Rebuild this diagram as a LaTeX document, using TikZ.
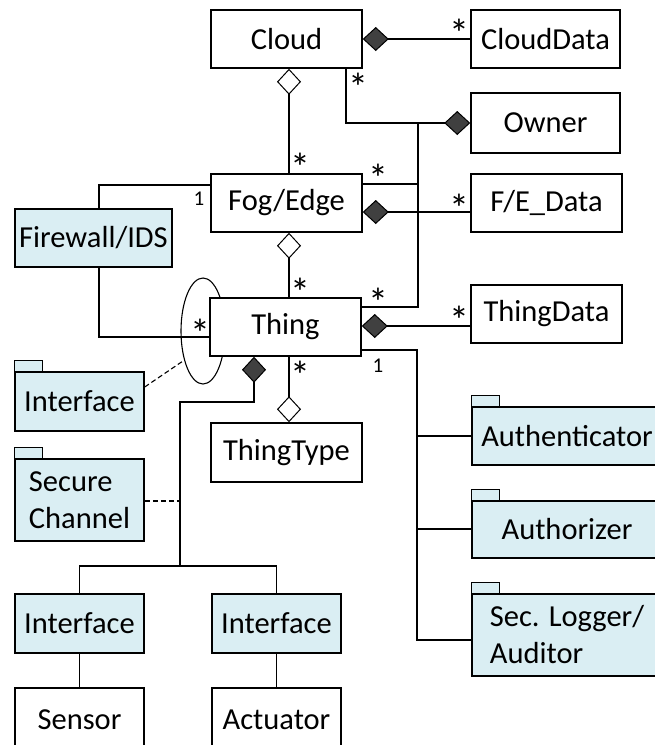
\documentclass[tikz,border=0pt]{standalone}
\usepackage{fontspec}
\setmainfont{Carlito}
\usetikzlibrary{arrows.meta}
\definecolor{pkgblue}{HTML}{DAEEF3}
\definecolor{dfill}{HTML}{404040}
\newcommand{\mstar}{\raisebox{-14pt}[11pt][0pt]{*}}
\begin{document}
\begin{tikzpicture}[x=1pt,y=-1pt,
  box/.style={draw,line width=1.5pt,fill=white,inner sep=0pt,font=\fontsize{30.5}{37}\selectfont,align=center},
  pkg/.style={box,fill=pkgblue},
  ln/.style={line width=1.1pt},
  comp/.style={ln,-{Diamond[length=26pt,width=24pt,fill=dfill,line width=1pt]}},
  agg/.style={ln,-{Diamond[length=26pt,width=24pt,fill=white,line width=1pt]}},
  mult/.style={font=\fontsize{21}{24}\selectfont,inner sep=0pt},
  star/.style={font=\fontsize{40}{40}\selectfont,inner sep=0pt},
  tabbox/.style={draw,line width=1.2pt,fill=pkgblue}
]
\useasboundingbox (0,0) rectangle (655,745);
\clip (0,0) rectangle (655,745);
% ellipse (behind Thing)
\draw[ln] (203,331) ellipse [x radius=22pt, y radius=53pt];
% nodes
\node[box,minimum width=151pt,minimum height=58pt] (cloud) at (286.5,39) {Cloud};
\node[box,minimum width=149pt,minimum height=58pt] (cdata) at (545.5,39) {CloudData};
\node[box,minimum width=149pt,minimum height=60pt] (owner) at (545.5,123) {Owner};
\node[box,minimum width=151pt,minimum height=58pt] (fog) at (286.5,203) {Fog/Edge};
\node[box,minimum width=151pt,minimum height=58pt] (fe) at (546.5,203) {F/E\_Data};
\node[pkg,minimum width=157pt,minimum height=58pt] (fw) at (93.5,238) {Firewall/IDS};
\node[box,minimum width=151pt,minimum height=58pt] (thing) at (285.5,327) {Thing};
\node[box,minimum width=151pt,minimum height=58pt] (tdata) at (546.5,314) {ThingData};
\node[box,minimum width=151pt,minimum height=59pt] (ttype) at (286.5,452.5) {ThingType};
\node[pkg,minimum width=129pt,minimum height=59pt] (if1) at (79.5,401.5) {Interface};
\node[pkg,minimum width=129pt,minimum height=82pt,align=left] (sc) at (79.5,500) {Secure\\Channel};
\node[pkg,minimum width=129pt,minimum height=59pt] (if2) at (79.5,623.5) {Interface};
\node[pkg,minimum width=129pt,minimum height=59pt] (if3) at (276.5,623.5) {Interface};
\node[box,minimum width=129pt,minimum height=64pt] (sensor) at (79.5,720) {Sensor};
\node[box,minimum width=129pt,minimum height=64pt] (actuator) at (276.5,720) {Actuator};
\node[pkg,minimum width=190pt,minimum height=58pt] (authc) at (567,436) {Authenticator};
\node[pkg,minimum width=190pt,minimum height=57pt] (authz) at (567,529.5) {Authorizer};
\node[pkg,minimum width=190pt,minimum height=82pt,align=left] (logger) at (567,635) {Sec. Logger/\\Auditor};
% package tabs
\foreach \n in {if1,sc,authc,authz,logger}
  \draw[tabbox] (\n.north west) rectangle ++(28,-11);
% connectors
\draw[comp] (cdata.west) -- (cloud.east);
\draw[agg] (fog.north -| 289,0) -- (cloud.south -| 289,0);
\draw[comp] (cloud.south -| 346,0) |- (owner.west);
\draw[ln] (fog.east |- 0,184) -- (418,184);
\draw[ln] (thing.east |- 0,307) -| (418,123);
\draw[comp] (fe.west |- 0,212) -- (fog.east |- 0,212);
\draw[ln] (fog.west |- 0,185) -| (fw.north -| 99,0);
\draw[ln] (fw.south -| 99,0) |- (thing.west |- 0,337);
\draw[agg] (thing.north -| 289,0) -- (fog.south -| 289,0);
\draw[comp] (tdata.west |- 0,326) -- (thing.east |- 0,326);
\draw[ln] (thing.east |- 0,350) -| (417,640) -- (logger.west |- 0,640);
\draw[ln] (417,436) -- (authc.west |- 0,436);
\draw[ln] (417,529) -- (authz.west |- 0,529);
\draw[agg] (thing.south -| 289,0) -- (ttype.north -| 289,0);
\coordinate (j) at (180,566);
\draw[comp] (j) |- (254,402) -- (thing.south -| 254,0);
\draw[ln] (if2.north) |- (j) -| (if3.north);
\draw[ln] (if2.south) -- (sensor.north);
\draw[ln] (if3.south) -- (actuator.north);
\coordinate (ell) at (183,361);
\draw[ln,dash pattern=on 5pt off 3pt] (if1.east |- 0,387) -- (ell);
\draw[ln,dash pattern=on 5pt off 3pt] (sc.east |- 0,501) -- (180,501);
% multiplicities
\node[star] (m1) at (459,28) {\mstar};
\node[star] (m2) at (358,82) {\mstar};
\node[star] (m3) at (300,162) {\mstar};
\node[star] (m4) at (378,173) {\mstar};
\node[mult] (m5) at (199,199) {1};
\node[star] (m6) at (459,203) {\mstar};
\node[star] (m7) at (300,287) {\mstar};
\node[star] (m8) at (378,297) {\mstar};
\node[star] (m9) at (459,315) {\mstar};
\node[star] (m10) at (200,328) {\mstar};
\node[mult] (m11) at (378,366) {1};
\node[star] (m12) at (300,370) {\mstar};
\end{tikzpicture}
\end{document}
